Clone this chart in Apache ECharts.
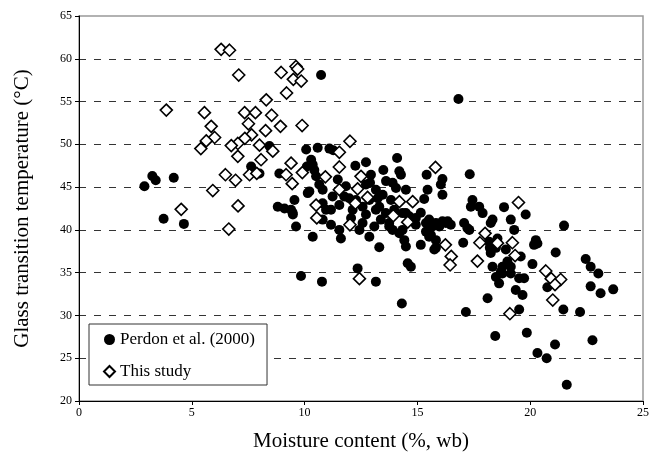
<!DOCTYPE html>
<html>
<head>
<meta charset="utf-8">
<script src="https://cdn.jsdelivr.net/npm/echarts@6/dist/echarts.min.js"></script>
<style>html,body{margin:0;padding:0;background:#fff}#c{width:652px;height:458px}</style>
</head>
<body>
<div id="c"></div>
<script>
var seriesNames = ['Perdon et al. (2000)', 'This study'];
var xTitle = 'Moisture content (%, wb)';
var yTitle = 'Glass transition temperature (°C)';
var xTicks = [0, 5, 10, 15, 20, 25];
var yTicks = [20, 25, 30, 35, 40, 45, 50, 55, 60, 65];

var perdon = [
[2.9,45.1],[3.25,46.3],[3.4,45.8],[4.2,46.1],[3.75,41.3],[4.65,40.7],
[7.63,47.4],[7.7,46.8],[8.0,46.6],[8.44,49.8],[8.88,46.6],
[8.81,42.7],[9.11,42.5],[9.4,42.35],[9.48,41.8],[9.55,43.5],[9.47,42.0],[9.62,40.4],[9.84,34.6],
[10.07,49.4],[10.58,49.6],[11.1,49.5],[11.27,49.3],[10.1,47.4],[10.29,48.2],[10.36,47.6],[10.43,47.0],
[10.51,46.26],[10.65,45.3],[10.21,44.5],[10.8,44.7],[10.14,44.3],[11.47,45.9],[11.83,45.1],[11.24,43.9],
[11.54,42.9],[11.76,43.9],[10.73,58.1],
[12.72,47.9],[12.25,47.5],[14.1,48.4],[13.49,47.0],[14.2,46.85],[14.27,46.45],[12.94,46.45],[12.9,45.5],
[13.61,45.7],[13.9,45.5],[12.72,45.3],[13.16,44.7],[14.05,44.9],[14.49,44.7],[15.41,46.45],[16.11,45.95],
[16.04,45.3],[16.11,44.1],[15.3,43.6],[15.45,44.7],
[10.36,39.2],[11.17,42.35],[11.17,40.6],[11.61,39.0],[11.54,40.0],[12.43,40.0],[12.87,39.2],[12.06,41.4],
[12.72,41.8],[13.31,42.7],[13.09,40.4],[13.38,41.2],[13.75,40.8],[13.9,40.0],[14.34,40.0],[14.42,38.8],
[14.49,38.05],[13.31,37.97],[14.34,41.96],[14.93,40.6],[15.15,38.25],[15.38,40.8],[15.38,39.8],[15.82,40.8],
[16.26,40.8],[15.82,37.9],[15.52,39.2],[15.82,38.8],[14.57,36.1],[14.71,35.7],[12.35,35.5],[10.77,33.95],
[13.16,33.95],[14.31,31.4],
[11.98,43.7],[12.28,43.5],[12.13,42.35],[12.87,43.5],[13.24,43.7],[13.46,44.1],[13.83,43.5],[13.97,42.35],
[14.49,41.96],[14.64,41.6],[14.93,41.4],[15.15,42.0],[15.52,41.2],[15.67,40.4],[15.97,40.4],[16.11,41.0],
[13.75,40.4],[14.2,39.6],[13.6,41.96],[13.16,42.35],[12.57,40.8],[12.57,42.7],[10.8,43.1],[10.95,42.35],[10.8,41.2],
[16.82,55.3],[17.32,46.5],
[17.44,43.5],[17.37,42.7],[17.74,42.7],[17.89,41.96],[18.84,42.66],[19.8,41.8],[19.14,41.2],[18.33,41.2],
[18.25,40.8],[19.29,40.0],[16.34,41.0],[16.48,40.6],[17.07,40.8],[17.22,40.2],[17.3,40.0],[17.03,38.5],
[18.18,38.6],[18.25,37.3],[18.33,35.7],[18.48,34.5],[18.62,33.75],[18.55,39.0],[18.77,35.7],[18.77,34.9],
[18.99,36.3],[19.14,35.7],[19.14,34.9],[19.58,36.9],[20.25,38.8],[20.32,38.4],[20.17,38.25],[20.1,36.0],
[21.13,37.35],[19.51,34.35],[19.73,34.35],[19.36,32.97],[19.66,32.4],[18.11,32.0],[17.15,30.4],[20.76,33.3],
[21.5,40.5],[15.6,39.4],[15.75,37.7],[18.21,37.9],[18.48,37.9],[18.7,35.1],[18.92,37.7],[19.51,30.7],
[18.45,27.6],[19.85,27.97],[21.47,30.7],[22.21,30.4],[22.46,36.6],[22.68,35.7],[23.02,34.9],[22.68,33.4],
[23.12,32.6],[23.68,33.05],[22.76,27.1],[21.1,26.6],[20.32,25.6],[20.73,25.0],[21.62,21.9]
];

var thisStudy = [
[6.3,61.1],[6.67,61.0],[7.08,58.1],[8.96,58.4],[9.62,59.1],[9.69,58.8],[9.5,57.6],[9.85,57.4],[9.2,56.0],
[3.87,54.0],[5.56,53.7],[5.86,52.1],[6.01,50.8],[5.64,50.4],[5.4,49.5],[7.34,53.7],[7.82,53.7],[8.3,55.2],
[8.54,53.4],[8.93,52.1],[9.89,52.2],[7.51,52.4],[8.27,51.6],[7.65,51.1],[7.35,50.7],[7.04,50.1],[6.75,49.85],
[8.0,49.9],[8.59,49.2],[7.04,48.6],[8.07,48.2],[9.4,47.8],[9.18,46.45],[9.45,45.4],[9.9,46.7],[6.49,46.45],
[6.94,45.8],[7.56,46.45],[7.88,46.6],[5.93,44.6],[4.53,42.4],[7.05,42.8],[6.64,40.1],
[12.01,50.36],[11.54,49.07],[11.54,47.35],[10.92,46.2],[12.5,46.26],[11.54,44.7],[12.35,44.8],[12.79,43.8],
[12.25,43.1],[10.51,42.9],[10.54,41.4],[12.01,40.6],[14.2,43.3],[14.79,43.3],[13.93,41.65],[14.57,40.9],
[15.8,47.3],[16.24,38.25],[16.5,36.9],[16.45,35.9],[12.43,34.3],
[19.48,43.2],[18.0,39.6],[17.77,38.5],[18.55,38.45],[19.21,38.5],[19.33,37.0],[17.66,36.35],[19.1,30.2],
[20.69,35.2],[20.93,34.3],[21.35,34.2],[21.1,33.6],[21.0,31.8]
];

var FONT = '"Liberation Serif", "Times New Roman", serif';
var chart = echarts.init(document.getElementById('c'), null, {renderer: 'canvas'});
chart.setOption({
  animation: false,
  backgroundColor: '#fff',
  textStyle: {fontFamily: FONT, color: '#000'},
  grid: {left: 79, right: 8, top: 16, bottom: 57, show: true, borderColor: '#999', borderWidth: 1.5, backgroundColor: 'transparent'},
  legend: {
    orient: 'vertical', left: 89, top: 324,
    padding: [7, 12, 5, 14],
    itemGap: 15, itemWidth: 11, itemHeight: 11,
    borderColor: '#333', borderWidth: 1, backgroundColor: '#fff',
    textStyle: {fontFamily: FONT, fontSize: 17, color: '#000'},
    data: seriesNames
  },
  xAxis: {
    type: 'value', min: xTicks[0], max: xTicks[xTicks.length - 1], interval: 5,
    name: xTitle, nameLocation: 'middle', nameGap: 30,
    nameTextStyle: {fontFamily: FONT, fontSize: 21, color: '#000'},
    axisLine: {onZero: false, lineStyle: {color: '#000', width: 1}},
    axisTick: {show: true, length: 4, lineStyle: {color: '#000'}},
    axisLabel: {fontFamily: FONT, fontSize: 12, color: '#000', margin: 6},
    splitLine: {show: false}
  },
  yAxis: {
    type: 'value', min: yTicks[0], max: yTicks[yTicks.length - 1], interval: 5,
    name: yTitle, nameLocation: 'middle', nameGap: 46,
    nameTextStyle: {fontFamily: FONT, fontSize: 21, color: '#000'},
    axisLine: {show: true, onZero: false, lineStyle: {color: '#000', width: 1}},
    axisTick: {show: true, length: 4, lineStyle: {color: '#000'}},
    axisLabel: {fontFamily: FONT, fontSize: 12, color: '#000', margin: 7},
    splitLine: {show: true, showMinLine: false, showMaxLine: false, lineStyle: {color: '#333', type: [7, 8], width: 1}}
  },
  series: [
    {
      name: seriesNames[0], type: 'scatter', data: perdon,
      symbol: 'circle', symbolSize: 10,
      itemStyle: {color: '#000', opacity: 1}
    },
    {
      name: seriesNames[1], type: 'scatter', data: thisStudy,
      symbol: 'diamond', symbolSize: 12, z: 3,
      itemStyle: {color: '#fff', borderColor: '#000', borderWidth: 1.6, opacity: 1}
    }
  ]
});
</script>
</body>
</html>
